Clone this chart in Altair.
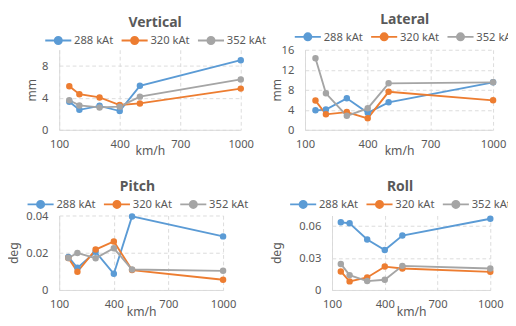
import altair as alt
import pandas as pd

speeds = [150, 200, 300, 400, 500, 1000]
series = ["288 kAt", "320 kAt", "352 kAt"]
colors = ["#5B9BD5", "#ED7D31", "#A5A5A5"]
x_ticks = [100, 400, 700, 1000]

vertical_288 = [3.5, 2.5, 3.0, 2.35, 5.5, 8.7]
vertical_320 = [5.45, 4.45, 4.05, 3.1, 3.3, 5.15]
vertical_352 = [3.7, 3.05, 2.8, 2.9, 4.15, 6.3]

lateral_288 = [3.9, 4.05, 6.3, 3.4, 5.5, 9.5]
lateral_320 = [5.85, 3.1, 3.55, 2.3, 7.6, 5.9]
lateral_352 = [14.3, 7.3, 2.8, 4.3, 9.3, 9.5]

pitch_288 = [0.0178, 0.0119, 0.0205, 0.0087, 0.0395, 0.0288]
pitch_320 = [0.0172, 0.0098, 0.0217, 0.0261, 0.0107, 0.0055]
pitch_352 = [0.0172, 0.0199, 0.0171, 0.0224, 0.0110, 0.0103]

roll_288 = [0.0637, 0.0627, 0.0475, 0.0376, 0.0512, 0.0670]
roll_320 = [0.0174, 0.0081, 0.0118, 0.0220, 0.0202, 0.0171]
roll_352 = [0.0245, 0.0140, 0.0084, 0.0096, 0.0227, 0.0202]

FONT = "Noto Sans"
GREY = "#595959"
# line segment with a dot in its middle; unit = 7px with symbolSize 196
SYMBOL = "M-1,0L3,0M0.45,0A0.55,0.55,0,1,1,1.55,0A0.55,0.55,0,1,1,0.45,0Z"


def panel(name, unit, vals, ydom, yticks, w, h, lx, ly, ytpad):
    df = pd.DataFrame({
        "speed": speeds * 3,
        "value": vals[0] + vals[1] + vals[2],
        "series": [s for s in series for _ in speeds],
    })
    color = alt.Color(
        "series:N",
        scale=alt.Scale(domain=series, range=colors),
        legend=alt.Legend(
            title=name, titleOrient="top", titleAnchor="middle",
            titleFontSize=15, titleFontWeight="bold", titleColor=GREY,
            titleFont=FONT, titlePadding=3,
            orient="none", direction="horizontal",
            legendX=lx, legendY=ly, symbolType=SYMBOL, symbolSize=196,
            symbolStrokeWidth=2, labelFontSize=12, labelColor=GREY,
            labelFont=FONT, columnPadding=4, labelOffset=16, padding=0,
        ),
    )
    x = alt.X(
        "speed:Q",
        scale=alt.Scale(domain=[100, 1000], nice=False, zero=False),
        axis=alt.Axis(values=x_ticks, title="km/h", labelPadding=10,
                      titlePadding=-4, format="d", labelFlush=False),
    )
    y = alt.Y(
        "value:Q",
        scale=alt.Scale(domain=ydom, nice=False),
        axis=alt.Axis(values=yticks, title=unit, format="~g",
                      labelPadding=12, titlePadding=ytpad),
    )
    base = alt.Chart(df).encode(x=x, y=y, color=color)
    return alt.layer(
        base.mark_line(strokeWidth=2),
        base.mark_point(filled=True, size=48, opacity=1),
    ).properties(width=w, height=h)


v = panel("Vertical", "mm", [vertical_288, vertical_320, vertical_352],
          [0, 10], [0, 4, 8], 195, 86, -16, -36, 4)
l = panel("Lateral", "mm", [lateral_288, lateral_320, lateral_352],
          [0, 16], [0, 4, 8, 12, 16], 202, 86, -12, -40, -2)
p = panel("Pitch", "deg", [pitch_288, pitch_320, pitch_352],
          [0, 0.04], [0, 0.02, 0.04], 176, 80, -35, -38, 6)
r = panel("Roll", "deg", [roll_288, roll_320, roll_352],
          [0, 0.07], [0, 0.03, 0.06], 170, 80, -46, -38, 17)

chart = alt.concat(
    v, l, p, r, columns=2, align="none",
    spacing={"row": 24, "column": 4},
).resolve_scale(
    color="independent"
).properties(
    padding={"left": 0, "top": -7, "right": -9, "bottom": 0},
    background="white",
).configure_view(
    stroke=None
).configure_axis(
    domainColor="#D9D9D9", gridColor="#D9D9D9", gridDash=[4, 3], ticks=False,
    labelColor=GREY, labelFontSize=12, labelFont=FONT, titleColor=GREY,
    titleFontSize=13, titleFontWeight="normal", titleFont=FONT,
)

chart.save("out.html", embed_options={"renderer": "svg", "actions": False})
